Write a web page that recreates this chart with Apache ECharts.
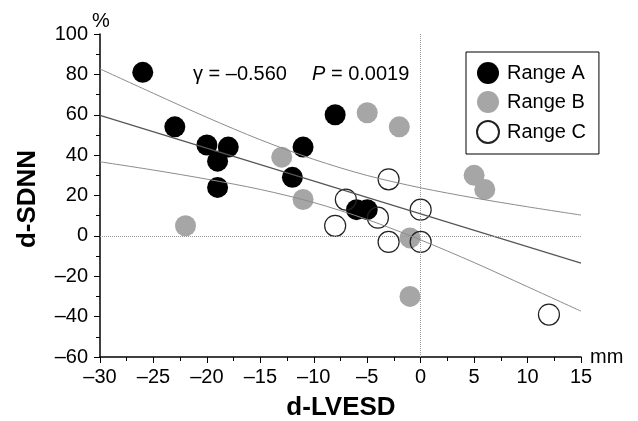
<html>
<head>
<meta http-equiv="Content-Type" content="text/html; charset=utf-8" />
<script src="https://cdn.jsdelivr.net/npm/echarts@6/dist/echarts.min.js"></script>
</head>
<body style="margin:0">
<div id="chart" style="width:638px;height:421px;"></div>
<script type="text/javascript">
// points: [d-LVESD mm, d-SDNN %]
var rangeA = [[-26, 81], [-23, 54], [-20, 45], [-18, 44], [-19, 37], [-19, 24],
              [-11, 44], [-12, 29], [-8, 60], [-6, 13], [-5, 13]];
var rangeB = [[-22, 5], [-13, 39], [-11, 18], [-5, 61], [-2, 54], [5, 30],
              [6, 23], [-1, -1], [-1, -30]];
var rangeC = [[-7, 18], [-8, 5], [-4, 9], [-3, 28], [0, 13], [-3, -3],
              [0, -3], [12, -39]];

// regression line and its bands
var fitX = [-30, 15];
var fitY = [59.7, -13.5];
var bandX = [-30, -25, -20, -15, -10, -5, 0, 5, 10, 15];
var upperY = [82.7, 70.6, 58.7, 47.6, 37.9, 29.9, 23.8, 18.8, 14.4, 10.3];
var lowerY = [36.7, 32.6, 28.1, 23.0, 16.5, 8.1, -2.0, -13.2, -25.2, -37.3];

var FONT = 'Liberation Sans, Arial, sans-serif';

function pairs(xs, ys) {
    var out = [];
    for (var i = 0; i < xs.length; i++) out.push([xs[i], ys[i]]);
    return out;
}
function dash(v) {
    return String(v).replace('-', '\u2013');
}

var myChart = echarts.init(document.getElementById('chart'));

myChart.setOption({
    animation: false,
    backgroundColor: '#fff',
    textStyle: { fontFamily: FONT },
    grid: { left: 100, right: 57, top: 34, bottom: 64 },
    legend: {
        data: ['Range A', 'Range B', 'Range C'],
        orient: 'vertical',
        left: 466,
        top: 52,
        padding: [10, 13, 10, 10],
        itemGap: 7,
        itemWidth: 22,
        itemHeight: 22,
        borderColor: '#000',
        borderWidth: 1,
        backgroundColor: '#fff',
        textStyle: { fontSize: 20, color: '#000', fontFamily: FONT, padding: [0, 0, 0, 3] }
    },
    xAxis: {
        type: 'value',
        min: -30, max: 15, interval: 5,
        name: 'mm',
        nameLocation: 'end',
        nameGap: 9,
        nameTextStyle: { fontSize: 20, color: '#000', fontFamily: FONT },
        axisLine: { onZero: false, lineStyle: { color: '#000', width: 1.5 } },
        axisTick: { length: 6, lineStyle: { color: '#000' } },
        minorTick: { show: true, splitNumber: 2, length: 4, lineStyle: { color: '#000' } },
        splitLine: { show: false },
        axisLabel: { fontSize: 20, color: '#000', margin: 10, formatter: dash }
    },
    yAxis: {
        type: 'value',
        min: -60, max: 100, interval: 20,
        axisLine: { show: true, onZero: false, lineStyle: { color: '#000', width: 1.5 } },
        axisTick: { show: true, length: 6, lineStyle: { color: '#000' } },
        minorTick: { show: true, splitNumber: 2, length: 4, lineStyle: { color: '#000' } },
        splitLine: { show: false },
        axisLabel: { fontSize: 20, color: '#000', margin: 12, formatter: dash }
    },
    series: [
        {
            type: 'line', data: pairs(bandX, upperY), smooth: 0.3,
            symbol: 'none', silent: true,
            lineStyle: { color: '#8c8c8c', width: 1 }
        },
        {
            type: 'line', data: pairs(bandX, lowerY), smooth: 0.3,
            symbol: 'none', silent: true,
            lineStyle: { color: '#8c8c8c', width: 1 }
        },
        {
            type: 'line', data: pairs(fitX, fitY),
            symbol: 'none', silent: true,
            lineStyle: { color: '#555', width: 1.2 },
            markLine: {
                silent: true,
                symbol: 'none',
                label: { show: false },
                lineStyle: { color: '#999', type: 'dotted', width: 1 },
                data: [{ xAxis: 0 }, { yAxis: 0 }]
            }
        },
        {
            name: 'Range A', type: 'scatter', data: rangeA, symbolSize: 21,
            itemStyle: { color: '#000', opacity: 1 }
        },
        {
            name: 'Range B', type: 'scatter', data: rangeB, symbolSize: 21,
            itemStyle: { color: '#a6a6a6', opacity: 1 }
        },
        {
            name: 'Range C', type: 'scatter', data: rangeC, symbolSize: 21,
            itemStyle: { color: 'rgba(255,255,255,0)', borderColor: '#222', borderWidth: 1.2, opacity: 1 }
        }
    ],
    graphic: [
        {
            type: 'text', x: 101, y: 21,
            style: { text: '%', fontSize: 20, fontFamily: FONT,
                     fill: '#000', align: 'center', verticalAlign: 'middle' }
        },
        {
            type: 'text', x: 28, y: 199, rotation: Math.PI / 2,
            style: { text: 'd-SDNN', fontSize: 26, fontWeight: 'bold', fontFamily: FONT,
                     fill: '#000', align: 'center', verticalAlign: 'middle' }
        },
        {
            type: 'text', x: 341, y: 408,
            style: { text: 'd-LVESD', fontSize: 26, fontWeight: 'bold', fontFamily: FONT,
                     fill: '#000', align: 'center', verticalAlign: 'middle' }
        },
        {
            type: 'text', x: 193, y: 74,
            style: { text: '\u03b3 = \u20130.560', fontSize: 20, fontFamily: FONT,
                     fill: '#000', align: 'left', verticalAlign: 'middle' }
        },
        {
            type: 'text', x: 312, y: 74,
            style: { text: '{p|P} = 0.0019', fontSize: 20, fontFamily: FONT,
                     fill: '#000', align: 'left', verticalAlign: 'middle',
                     rich: { p: { fontStyle: 'italic', fontSize: 20, fontFamily: FONT, fill: '#000' } } }
        }
    ]
});
</script>
</body>
</html>
